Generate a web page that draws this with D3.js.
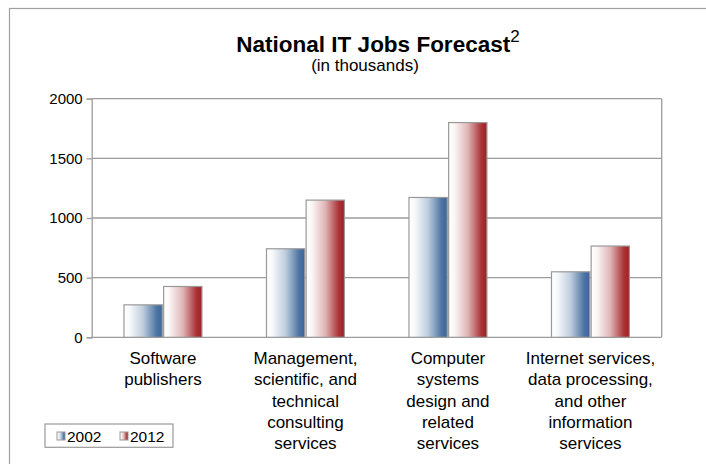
<!DOCTYPE html>
<html>
<head>
<meta charset="utf-8">
<script src="https://cdn.jsdelivr.net/npm/d3@7"></script>
<style>
  html, body { margin: 0; padding: 0; background: #ffffff; }
  svg { display: block; font-family: "Liberation Sans", Arial, Helvetica, sans-serif; }
</style>
</head>
<body>
<svg id="chart" width="706" height="464"></svg>
<script>
const categories = [
  ["Software", "publishers"],
  ["Management,", "scientific, and", "technical", "consulting", "services"],
  ["Computer", "systems", "design and", "related", "services"],
  ["Internet services,", "data processing,", "and other", "information", "services"]
];
const seriesNames = ["2002", "2012"];
const values2002 = [272, 742, 1172, 549];
const values2012 = [426, 1150, 1800, 765];
const yTicks = [0, 500, 1000, 1500, 2000];

const svg = d3.select("#chart");
const W = 706, H = 464;
const plot = { left: 91.7, right: 661.7, top: 98.7, bottom: 337.3 };
const gridColor = "#9c9c9c";
const seriesColors = ["#3a6699", "#a11e22"];

// gradients
const defs = svg.append("defs");
seriesColors.forEach((c, i) => {
  const g = defs.append("linearGradient").attr("id", "grad" + i)
    .attr("x1", "0%").attr("x2", "100%").attr("y1", "0%").attr("y2", "0%");
  const light = d3.interpolateRgb("#ffffff", c);
  g.append("stop").attr("offset", "0%").attr("stop-color", "#ffffff");
  g.append("stop").attr("offset", "15%").attr("stop-color", light(0.04));
  g.append("stop").attr("offset", "50%").attr("stop-color", light(0.33));
  g.append("stop").attr("offset", "85%").attr("stop-color", light(0.9));
  g.append("stop").attr("offset", "100%").attr("stop-color", c);
});

// outer frame
svg.append("rect").attr("x", 9.5).attr("y", 8.5).attr("width", W).attr("height", H)
  .attr("fill", "none").attr("stroke", "#a0a0a0").attr("stroke-width", 1.2);

// scales
const x0 = d3.scaleBand().domain(d3.range(categories.length))
  .range([plot.left, plot.right]).paddingInner(0.453).paddingOuter(0.2265);
const x1 = d3.scaleBand().domain(seriesNames).range([0, x0.bandwidth()]).paddingInner(0.035);
const y = d3.scaleLinear().domain([0, 2000]).range([plot.bottom, plot.top]);

// gridlines
svg.append("g").selectAll("line").data(yTicks).join("line")
  .attr("x1", plot.left).attr("x2", plot.right)
  .attr("y1", d => y(d)).attr("y2", d => y(d))
  .attr("stroke", gridColor).attr("stroke-width", 1.3);

// right border
svg.append("line").attr("x1", plot.right).attr("x2", plot.right)
  .attr("y1", plot.top).attr("y2", plot.bottom)
  .attr("stroke", gridColor).attr("stroke-width", 1.3);

// y axis
const yAxis = d3.axisLeft(y).tickValues(yTicks).tickSize(5).tickPadding(4).tickFormat(d3.format("d"));
const gy = svg.append("g").attr("transform", `translate(${plot.left},0)`).call(yAxis);
gy.select(".domain").attr("stroke", gridColor).attr("stroke-width", 1.3);
gy.selectAll(".tick line").attr("stroke", gridColor).attr("stroke-width", 1.3);
gy.selectAll(".tick text").attr("font-size", 15).attr("fill", "#000")
  .attr("font-family", "Liberation Sans, Arial, sans-serif");

// bars
const series = [values2002, values2012];
const groups = svg.append("g").selectAll("g").data(categories).join("g")
  .attr("transform", (d, i) => `translate(${x0(i)},0)`);
groups.selectAll("rect").data((d, i) => seriesNames.map((s, k) => ({ s, k, v: series[k][i] })))
  .join("rect")
  .attr("x", d => x1(d.s)).attr("width", x1.bandwidth())
  .attr("y", d => y(d.v)).attr("height", d => y(0) - y(d.v))
  .attr("fill", d => `url(#grad${d.k})`)
  .attr("stroke", "#999").attr("stroke-width", 1.2);

// category labels
const lab = svg.append("g").selectAll("text").data(categories).join("text")
  .attr("text-anchor", "middle").attr("font-size", 17).attr("fill", "#000");
lab.each(function (lines, i) {
  const cx = x0(i) + x0.bandwidth() / 2;
  d3.select(this).selectAll("tspan").data(lines).join("tspan")
    .attr("x", cx).attr("y", (d, j) => 364 + j * 21.3).text(d => d);
});

// title
const title = svg.append("text").attr("x", 378).attr("y", 52)
  .attr("text-anchor", "middle").attr("fill", "#000");
title.append("tspan").attr("font-size", 22.5).attr("font-weight", "bold").text("National IT Jobs Forecast");
title.append("tspan").attr("font-size", 17).attr("dy", -10).text("2");
svg.append("text").attr("x", 365).attr("y", 70.5).attr("text-anchor", "middle")
  .attr("font-size", 17).attr("fill", "#000").text("(in thousands)");

// legend
const lg = svg.append("g");
lg.append("rect").attr("x", 45).attr("y", 424).attr("width", 128).attr("height", 23.3)
  .attr("fill", "#fff").attr("stroke", "#999").attr("stroke-width", 1.2);
const legX = [57, 120];
seriesNames.forEach((s, k) => {
  lg.append("rect").attr("x", legX[k]).attr("y", 432).attr("width", 8).attr("height", 8)
    .attr("fill", `url(#grad${k})`).attr("stroke", "#999").attr("stroke-width", 1);
  lg.append("text").attr("x", legX[k] + 10).attr("y", 442).attr("font-size", 15.5)
    .attr("fill", "#000").text(s);
});
</script>
</body>
</html>
